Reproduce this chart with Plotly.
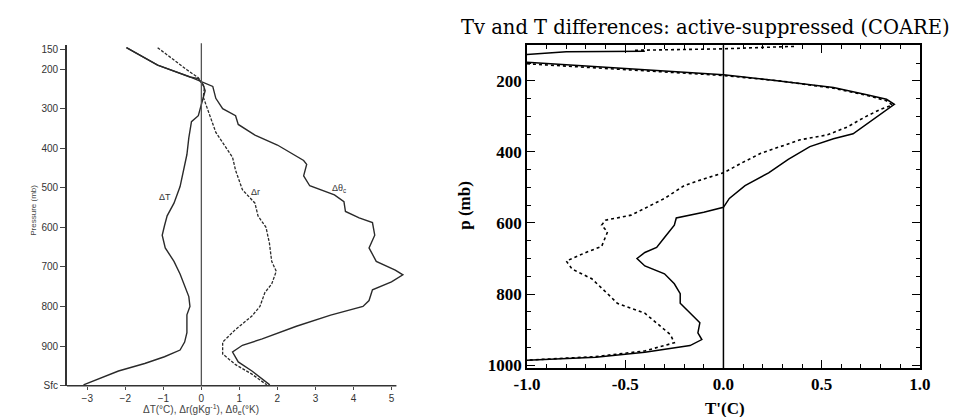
import plotly.graph_objects as go

# ---------------- Left panel data (pressure mb, values) ----------------
dT_p = [146, 190, 220, 224, 240, 255, 272, 292, 318, 333, 374, 416, 456, 497, 539, 571, 596, 620, 652, 686, 718, 743, 775, 800, 821, 866, 890, 910, 927, 944, 963, 998]
dT_v = [-1.97, -1.15, -0.3, -0.08, 0.05, 0.1, 0.05, 0.0, -0.08, -0.26, -0.33, -0.38, -0.46, -0.56, -0.72, -0.9, -0.97, -1.03, -0.95, -0.72, -0.56, -0.46, -0.33, -0.30, -0.38, -0.38, -0.44, -0.56, -0.97, -1.49, -2.18, -3.1]

dr_p = [146, 171, 202, 222, 247, 271, 293, 360, 423, 456, 505, 539, 571, 600, 640, 686, 711, 743, 765, 800, 824, 858, 890, 920, 947, 971, 998]
dr_v = [-1.15, -0.82, -0.38, -0.08, 0.08, 0.05, 0.13, 0.38, 0.82, 0.9, 1.08, 1.41, 1.49, 1.70, 1.79, 1.85, 1.97, 1.85, 1.67, 1.54, 1.33, 0.9, 0.56, 0.56, 0.9, 1.33, 1.72]

dth_p = [146, 190, 220, 244, 274, 300, 318, 340, 367, 392, 431, 441, 470, 495, 518, 535, 560, 576, 588, 620, 652, 686, 708, 720, 738, 758, 785, 800, 822, 850, 882, 898, 915, 940, 963, 998]
dth_v = [-1.97, -1.15, -0.3, 0.3, 0.38, 0.56, 0.9, 0.97, 1.41, 2.0, 2.69, 2.77, 2.69, 2.85, 3.5, 3.75, 3.79, 4.15, 4.5, 4.56, 4.41, 4.6, 5.1, 5.3, 5.0, 4.5, 4.41, 4.25, 3.4, 2.5, 1.6, 1.08, 0.82, 0.97, 1.33, 1.8]

left_ytick_vals = [150, 200, 300, 400, 500, 600, 700, 800, 900, 1000]
left_ytick_text = ["150", "200", "300", "400", "500", "600", "700", "800", "900", "Sfc"]
left_xtick_vals = [-3, -2, -1, 0, 1, 2, 3, 4, 5]

# ---------------- Right panel data (T' in C, pressure mb) ----------------
tv_x = [-1.0, -0.5, 0.0, 0.23, 0.56, 0.73, 0.83, 0.87, 0.76, 0.66, 0.56, 0.44, 0.33, 0.23, 0.11, 0.03, 0.0, -0.1, -0.24, -0.25, -0.30, -0.34, -0.40, -0.44, -0.40, -0.30, -0.25, -0.22, -0.22, -0.17, -0.12, -0.13, -0.11, -0.17, -0.40, -0.65, -0.90, -1.0]
tv_p = [148, 165, 183, 197, 219, 239, 252, 266, 310, 349, 363, 385, 421, 459, 495, 531, 556, 570, 586, 606, 641, 669, 683, 700, 721, 743, 771, 799, 826, 854, 881, 909, 928, 945, 964, 978, 983, 986]

t_x = [-1.0, -0.5, 0.0, 0.3, 0.56, 0.73, 0.83, 0.86, 0.80, 0.72, 0.63, 0.53, 0.39, 0.29, 0.19, 0.09, 0.0, -0.1, -0.2, -0.3, -0.37, -0.47, -0.60, -0.62, -0.59, -0.62, -0.70, -0.80, -0.77, -0.67, -0.59, -0.54, -0.40, -0.34, -0.27, -0.25, -0.40, -0.65, -1.0]
t_p = [152, 168, 185, 201, 221, 241, 256, 268, 280, 302, 330, 352, 366, 385, 404, 432, 459, 476, 495, 531, 550, 578, 592, 606, 625, 666, 683, 707, 730, 757, 799, 826, 854, 881, 914, 937, 960, 976, 986]

tv_top_x = [-1.0, -0.8, -0.4]
tv_top_p = [126, 118, 117]
t_top_x = [-0.45, 0.0, 0.2, 0.36]
t_top_p = [114, 110, 106, 103]

right_ytick_vals = [200, 400, 600, 800, 1000]
right_xtick_vals = [-1.0, -0.5, 0.0, 0.5, 1.0]
right_xtick_text = ["-1.0", "-0.5", "0.0", "0.5", "1.0"]

W, H = 957, 417
def px(x): return x / W
def py(y): return 1 - y / H

fig = go.Figure()
lc = "#2a2a2a"
fig.add_trace(go.Scatter(x=dT_v, y=dT_p, mode="lines", line=dict(color=lc, width=1.4), xaxis="x", yaxis="y", showlegend=False))
fig.add_trace(go.Scatter(x=dth_v, y=dth_p, mode="lines", line=dict(color=lc, width=1.4), xaxis="x", yaxis="y", showlegend=False))
fig.add_trace(go.Scatter(x=dr_v, y=dr_p, mode="lines", line=dict(color=lc, width=1.3, dash="3px,1.5px"), xaxis="x", yaxis="y", showlegend=False))

fig.add_trace(go.Scatter(x=tv_x, y=tv_p, mode="lines", line=dict(color="black", width=1.5), xaxis="x2", yaxis="y2", showlegend=False))
fig.add_trace(go.Scatter(x=t_x, y=t_p, mode="lines", line=dict(color="black", width=1.6, dash="dot"), xaxis="x2", yaxis="y2", showlegend=False))
fig.add_trace(go.Scatter(x=tv_top_x, y=tv_top_p, mode="lines", line=dict(color="black", width=1.5), xaxis="x2", yaxis="y2", showlegend=False))
fig.add_trace(go.Scatter(x=t_top_x, y=t_top_p, mode="lines", line=dict(color="black", width=1.6, dash="dot"), xaxis="x2", yaxis="y2", showlegend=False))

sans = "Liberation Sans, Arial, sans-serif"
serif = "DejaVu Serif, Liberation Serif, serif"
serif2 = "Liberation Serif, Times New Roman, serif"

fig.update_layout(
    width=W, height=H, margin=dict(l=0, r=0, t=0, b=0),
    paper_bgcolor="white", plot_bgcolor="white",
    xaxis=dict(domain=[px(47), px(395)], range=[(47 - 185) / 39, (395 - 185) / 39],
               tickvals=left_xtick_vals, ticks="outside", ticklen=3, tickcolor="#444",
               showline=False, showgrid=False, zeroline=False,
               tickfont=dict(family=sans, size=10, color="#333"), anchor="y"),
    yaxis=dict(domain=[py(384), py(37)], range=[1000, 140],
               tickvals=left_ytick_vals, ticktext=left_ytick_text, ticks="outside", ticklen=5,
               tickcolor="#444", showline=True, linecolor="#333", linewidth=1.5,
               showgrid=False, zeroline=False,
               tickfont=dict(family=sans, size=10, color="#333"), anchor="x"),
    xaxis2=dict(domain=[px(519), px(922)], range=[-1, 1],
                tickvals=right_xtick_vals, ticktext=right_xtick_text,
                ticks="inside", ticklen=8, tickwidth=1.2, tickcolor="black",
                minor=dict(dtick=0.1, ticks="inside", ticklen=4, tickcolor="black"),
                showline=True, linecolor="black", linewidth=1.5, mirror="ticks",
                showgrid=False, zeroline=False,
                tickfont=dict(family=serif2, size=17, color="black", weight="bold"), anchor="y2"),
    yaxis2=dict(domain=[py(366), py(37)], range=[1008, 100],
                tickvals=right_ytick_vals, ticks="inside", ticklen=8, tickwidth=1.2, tickcolor="black",
                minor=dict(dtick=50, ticks="inside", ticklen=4, tickcolor="black"),
                showline=True, linecolor="black", linewidth=1.5, mirror="ticks",
                showgrid=False, zeroline=False,
                tickfont=dict(family=serif2, size=17, color="black", weight="bold"), anchor="x2"),
)

# x-axis line on the left panel
fig.add_shape(type="line", xref="x", yref="paper", x0=(47 - 185) / 39, x1=5.13, y0=py(384), y1=py(384),
              line=dict(color="#333", width=1.5))
# zero lines
fig.add_shape(type="line", xref="x", yref="paper", x0=0, x1=0, y0=py(384), y1=py(35),
              line=dict(color="#555", width=1.3))
fig.add_shape(type="line", xref="x2", yref="paper", x0=0, x1=0, y0=py(366), y1=py(37),
              line=dict(color="black", width=1.5))

ann = [
    dict(x=px(954), y=py(19), text="Tv and T differences: active-suppressed (COARE)",
         font=dict(family=serif, size=19.5, color="black"), xanchor="right"),
    dict(x=px(455), y=py(200), text="<b>p (mb)</b>", textangle=-90,
         font=dict(family=serif2, size=17, color="black")),
    dict(x=px(722), y=py(407), text="<b>T'(C)</b>",
         font=dict(family=serif2, size=17, color="black")),
    dict(x=px(12), y=py(205), text="Pressure (mb)", textangle=-90,
         font=dict(family=sans, size=8, color="#444")),
    dict(x=px(185), y=py(408), text="ΔT(°C), Δr(gKg<sup>-1</sup>), Δθ<sub>e</sub>(°K)",
         font=dict(family=sans, size=10, color="#444")),
    dict(x=px(148), y=py(192), text="ΔT", font=dict(family=sans, size=9, color="#333")),
    dict(x=px(241), y=py(187), text="Δr", font=dict(family=sans, size=9, color="#333")),
    dict(x=px(326), y=py(183), text="Δθ<sub>c</sub>", font=dict(family=sans, size=9, color="#333")),
]
for a in ann:
    a.setdefault("xanchor", "center")
    a.update(xref="paper", yref="paper", showarrow=False, yanchor="middle", borderpad=0)
    fig.add_annotation(**a)

fig.write_html("out.html")
